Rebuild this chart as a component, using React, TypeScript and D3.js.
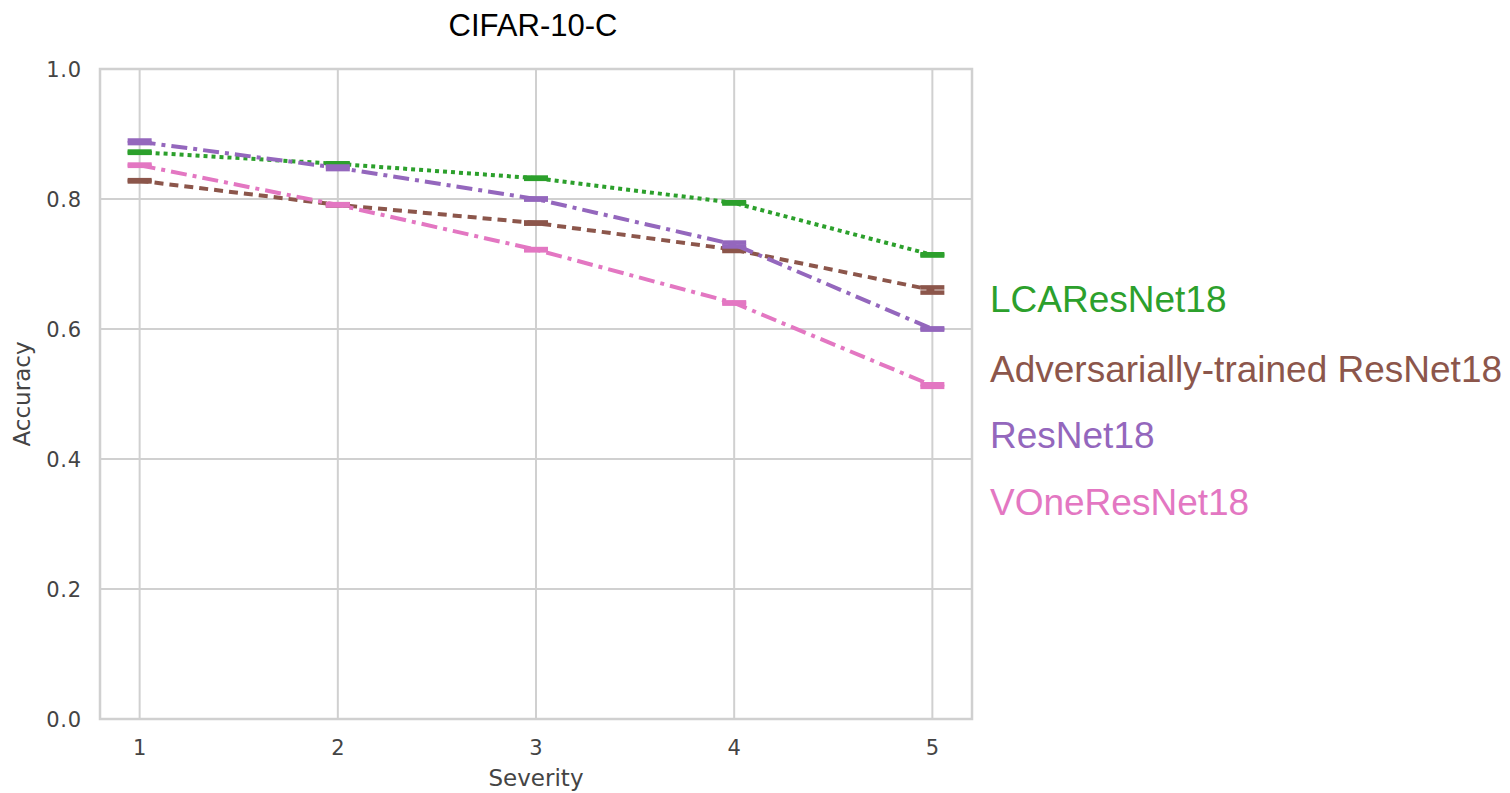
import React from 'react';
import * as d3 from 'd3';

const severities = [1, 2, 3, 4, 5];
const seriesNames = ['LCAResNet18', 'Adversarially-trained ResNet18', 'ResNet18', 'VOneResNet18'];
const lcaValues = [0.872, 0.854, 0.832, 0.794, 0.714];
const advValues = [0.828, 0.791, 0.763, 0.722, 0.660];
const resValues = [0.888, 0.848, 0.800, 0.730, 0.600];
const voneValues = [0.852, 0.791, 0.722, 0.640, 0.513];
const lcaErr = [0.001, 0.001, 0.001, 0.001, 0.001];
const advErr = [0.001, 0.001, 0.001, 0.002, 0.004];
const resErr = [0.002, 0.002, 0.001, 0.003, 0.001];
const voneErr = [0.001, 0.001, 0.001, 0.001, 0.002];
const yTicks = [0, 0.2, 0.4, 0.6, 0.8, 1.0];

const colors = ['#2ca02c', '#8c564b', '#9467bd', '#e377c2'];
const dashes = ['4 4', '9 6', '16 6 4 6', '16 6 4 6'];
const legendY = [299, 369, 435, 502];

const App: React.FC = () => {
    const width = 1510;
    const height = 793;
    const left = 100, right = 972, top = 69, bottom = 719;

    const x = d3.scaleLinear().domain([0.8, 5.2]).range([left, right]);
    const y = d3.scaleLinear().domain([0, 1]).range([bottom, top]);

    const all = [lcaValues, advValues, resValues, voneValues];
    const errs = [lcaErr, advErr, resErr, voneErr];
    const line = d3.line<number>()
        .x((_, i) => x(severities[i]))
        .y(d => y(d));

    const grid = '#d0d0d0';
    const tickFont = 'DejaVu Sans, sans-serif';

    return (
        <svg width={width} height={height} style={{ position: 'absolute', left: 0, top: 0 }}>
            <rect width={width} height={height} fill="white" />
            {yTicks.map(t => (
                <line key={'gy' + t} x1={left} x2={right} y1={y(t)} y2={y(t)} stroke={grid} strokeWidth={2} />
            ))}
            {severities.map(s => (
                <line key={'gx' + s} x1={x(s)} x2={x(s)} y1={top} y2={bottom} stroke={grid} strokeWidth={2} />
            ))}
            <rect x={left} y={top} width={right - left} height={bottom - top} fill="none" stroke={grid} strokeWidth={2.5} />

            {yTicks.map(t => (
                <text key={'ty' + t} x={82} y={y(t) + 8} textAnchor="end" fontFamily={tickFont} fontSize={21} letterSpacing={0.8} fill="#444">
                    {t.toFixed(1)}
                </text>
            ))}
            {severities.map(s => (
                <text key={'tx' + s} x={x(s)} y={755} textAnchor="middle" fontFamily={tickFont} fontSize={21} fill="#444">
                    {s}
                </text>
            ))}
            <text x={(left + right) / 2} y={786} textAnchor="middle" fontFamily={tickFont} fontSize={23} fill="#444">Severity</text>
            <text transform={`translate(30, ${(top + bottom) / 2}) rotate(-90)`} textAnchor="middle" fontFamily={tickFont} fontSize={23} fill="#444">Accuracy</text>
            <text x={533} y={36} textAnchor="middle" fontFamily="Liberation Sans, Arial, sans-serif" fontSize={31} fill="#000">CIFAR-10-C</text>

            {all.map((vals, k) => (
                <g key={'s' + k}>
                    <path d={line(vals) ?? ''} fill="none" stroke={colors[k]} strokeWidth={4} strokeDasharray={dashes[k]} />
                    {vals.map((v, i) => {
                        const cx = x(severities[i]);
                        const lo = y(v - errs[k][i]);
                        const hi = y(v + errs[k][i]);
                        return (
                            <g key={i}>
                                <line x1={cx} x2={cx} y1={lo} y2={hi} stroke={colors[k]} strokeWidth={4} />
                                <line x1={cx - 12} x2={cx + 12} y1={lo} y2={lo} stroke={colors[k]} strokeWidth={4.5} />
                                <line x1={cx - 12} x2={cx + 12} y1={hi} y2={hi} stroke={colors[k]} strokeWidth={4.5} />
                            </g>
                        );
                    })}
                </g>
            ))}

            {seriesNames.map((n, k) => (
                <text key={n} x={990} y={legendY[k]} dy="0.35em" fontFamily="Liberation Sans, Arial, sans-serif" fontSize={37} fill={colors[k]}>
                    {n}
                </text>
            ))}
        </svg>
    );
};

export default App;
